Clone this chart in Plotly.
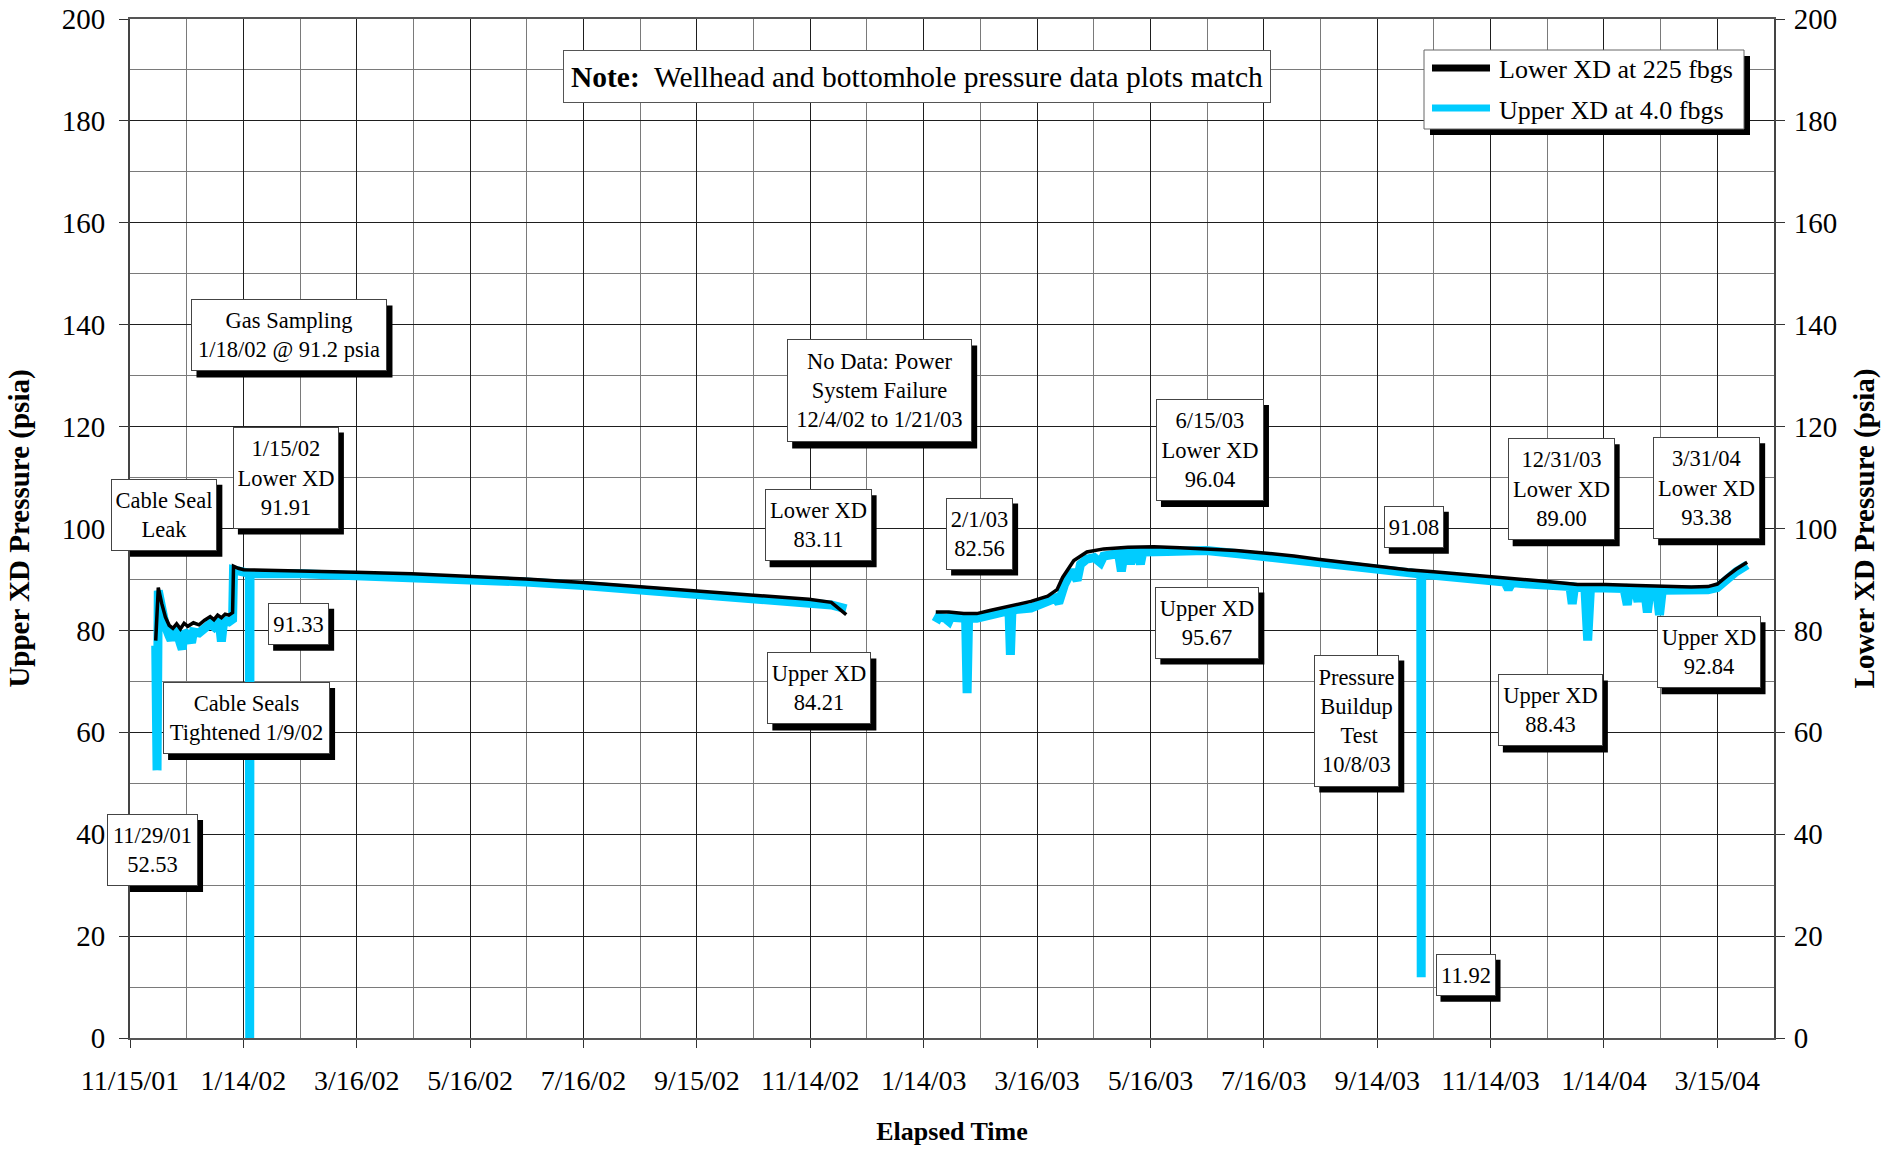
import pandas as pd
import plotly.graph_objects as go

SERIF = "Liberation Serif, Times New Roman, serif"
SKY = "#00CCFF"

# Date-axis labels (equally spaced between the first and last label)
TICK_LABELS = ["11/15/01", "1/14/02", "3/16/02", "5/16/02", "7/16/02", "9/15/02",
               "11/14/02", "1/14/03", "3/16/03", "5/16/03", "7/16/03", "9/14/03",
               "11/14/03", "1/14/04", "3/15/04"]

# Lower transducer (225 fbgs), psia; None marks the power-failure gap
LOWER_DATES = [
    "2001-11-28 19:00", "2001-11-30 04:00", "2001-12-02", "2001-12-04", "2001-12-06",
    "2001-12-08", "2001-12-10", "2001-12-12", "2001-12-14", "2001-12-16", "2001-12-19",
    "2001-12-22", "2001-12-25", "2001-12-28", "2001-12-30", "2002-01-01", "2002-01-03",
    "2002-01-05", "2002-01-07", "2002-01-09 00:00", "2002-01-09 12:00", "2002-01-12",
    "2002-01-15", "2002-02-15", "2002-03-16", "2002-04-15", "2002-05-16", "2002-06-15",
    "2002-07-16", "2002-08-15", "2002-09-15", "2002-10-15", "2002-11-14", "2002-11-26",
    "2002-12-04", "2002-12-20",
    "2003-01-21", "2003-01-28", "2003-02-05", "2003-02-12", "2003-02-19",
    "2003-02-27", "2003-03-13", "2003-03-22", "2003-03-27", "2003-03-30",
    "2003-04-05", "2003-04-12", "2003-04-21", "2003-05-04", "2003-05-18", "2003-06-01",
    "2003-06-15", "2003-07-01", "2003-07-16", "2003-08-01", "2003-08-15", "2003-09-01",
    "2003-09-15", "2003-10-01", "2003-10-15", "2003-11-01", "2003-11-15", "2003-12-01",
    "2003-12-15", "2003-12-31", "2004-01-15", "2004-02-01", "2004-02-15", "2004-03-01",
    "2004-03-10", "2004-03-15", "2004-03-20", "2004-03-25", "2004-03-31",
]
LOWER_PSIA = [
    78.0, 88.4, 85.3, 82.6, 81.0,
    80.4, 81.3, 80.3, 81.4, 80.8, 81.5,
    81.1, 82.0, 82.7, 82.1, 83.0, 82.5,
    83.2, 83.0, 83.5, 92.6, 92.2,
    91.91, 91.7, 91.4, 91.1, 90.6, 90.1,
    89.4, 88.6, 87.8, 87.0, 86.1, 85.5,
    83.11, None,
    83.6, 83.6, 83.3, 83.3, 83.9,
    84.6, 85.7, 86.7, 88.0, 90.4,
    93.7, 95.4, 96.0, 96.3, 96.4, 96.2,
    96.04, 95.7, 95.2, 94.6, 93.9, 93.2,
    92.5, 91.9, 91.5, 91.0, 90.5, 90.0,
    89.6, 89.00, 89.0, 88.8, 88.6, 88.5,
    88.6, 89.1, 90.6, 92.0, 93.38,
]

# Upper transducer (4.0 fbgs), psia
UPPER_DATES = [
    "2001-11-28 19:00", "2001-11-29 12:00", "2001-11-30 04:00", "2001-12-02", "2001-12-04",
    "2001-12-06", "2001-12-07", "2001-12-08", "2001-12-10", "2001-12-12", "2001-12-13",
    "2001-12-14", "2001-12-16", "2001-12-18", "2001-12-19", "2001-12-22", "2001-12-25",
    "2001-12-28", "2001-12-30", "2002-01-01", "2002-01-02", "2002-01-03", "2002-01-04",
    "2002-01-05", "2002-01-07", "2002-01-09 00:00", "2002-01-09 12:00", "2002-01-12",
    "2002-01-15", "2002-01-18", "2002-01-18 04:00", "2002-01-18 08:00", "2002-02-15",
    "2002-03-16", "2002-04-15", "2002-05-16", "2002-06-15", "2002-07-16", "2002-08-15",
    "2002-09-15", "2002-10-15", "2002-11-14", "2002-11-26", "2002-12-04", "2002-12-20",
    "2003-01-21", "2003-01-22 12:00", "2003-01-26", "2003-01-28", "2003-01-29",
    "2003-02-01", "2003-02-06 00:00", "2003-02-06 19:00", "2003-02-07 14:00", "2003-02-12",
    "2003-02-18", "2003-02-24", "2003-02-28", "2003-03-01 06:00", "2003-03-02 00:00",
    "2003-03-02 20:00", "2003-03-13", "2003-03-22", "2003-03-26", "2003-03-27 22:00",
    "2003-03-29", "2003-03-31", "2003-04-04", "2003-04-06 19:00", "2003-04-08 14:00",
    "2003-04-12", "2003-04-16", "2003-04-19 07:00", "2003-04-21", "2003-04-29",
    "2003-04-30 12:00", "2003-05-02", "2003-05-04 12:00", "2003-05-05 10:00", "2003-05-06 12:00",
    "2003-05-09", "2003-05-10 17:00", "2003-05-12", "2003-05-25",
    "2003-06-15", "2003-07-01", "2003-07-16", "2003-08-01", "2003-08-15", "2003-09-01",
    "2003-09-15", "2003-10-01", "2003-10-08 00:00", "2003-10-08 06:00", "2003-10-08 12:00",
    "2003-10-15", "2003-11-01", "2003-11-15", "2003-11-22", "2003-11-24", "2003-11-26",
    "2003-12-01", "2003-12-15", "2003-12-27", "2003-12-28 05:00", "2003-12-29 10:00",
    "2003-12-31", "2004-01-04", "2004-01-05 12:00", "2004-01-07", "2004-01-15",
    "2004-01-25", "2004-01-26 17:00", "2004-01-28", "2004-01-31", "2004-02-01 12:00",
    "2004-02-02", "2004-02-05", "2004-02-06 12:00", "2004-02-08", "2004-02-11 12:00",
    "2004-02-13", "2004-02-14 12:00", "2004-03-01", "2004-03-10", "2004-03-15",
    "2004-03-20", "2004-03-25", "2004-03-31",
]
UPPER_PSIA = [
    77.0, 52.53, 87.8, 84.2, 80.8,
    78.9, 78.1, 79.6, 79.9, 77.4, 76.3,
    79.8, 79.1, 77.6, 79.7, 79.5, 80.3,
    81.3, 80.7, 81.7, 81.2, 77.8, 81.1,
    81.9, 81.7, 82.2, 91.9, 91.6,
    91.33, 91.2, 0.0, 91.1, 91.1,
    90.8, 90.5, 90.0, 89.5, 88.8, 88.0,
    87.2, 86.4, 85.5, 85.0, 84.21, None,
    81.6, 82.6, 82.4, 81.8, 82.6,
    82.56, 82.4, 67.7, 82.4, 82.4,
    82.9, 83.4, 83.8, 83.9, 75.2,
    84.0, 84.4, 85.9, 86.3, 85.4,
    87.3, 89.0, 91.8, 89.8, 93.0,
    94.0, 94.3, 93.3, 94.6, 95.1,
    91.6, 95.2, 95.2, 93.0, 95.3,
    95.3, 93.0, 95.4, 95.5,
    95.67, 95.1, 94.5, 93.9, 93.1, 92.4,
    91.7, 91.2, 91.08, 11.92, 90.9,
    90.8, 90.2, 89.7, 89.5, 88.1, 89.4,
    89.2, 88.9, 88.6, 85.2, 88.5,
    88.43, 88.4, 78.0, 88.3, 88.3,
    88.2, 85.0, 88.2, 88.1, 85.6,
    88.1, 88.0, 83.5, 88.0, 88.0,
    83.0, 87.9, 87.9, 88.0, 88.4,
    90.0, 91.5, 92.84,
]


def reading(dates, values, when):
    return values[dates.index(when)]


def lower(when):
    return f"{reading(LOWER_DATES, LOWER_PSIA, when):.2f}"


def upper(when):
    return f"{reading(UPPER_DATES, UPPER_PSIA, when):.2f}"


# Callout boxes: (anchor date, anchor psia, text, box width px, box height px)
CALLOUTS = [
    ("2001-12-03 10:00", 102.7, "Cable Seal<br>Leak", 106, 72),
    ("2002-02-06 14:00", 110.0, f"1/15/02<br>Lower XD<br>{lower('2002-01-15')}", 106, 102),
    ("2002-02-08 12:00", 137.9,
     f"Gas Sampling<br>1/18/02 @ {reading(UPPER_DATES, UPPER_PSIA, '2002-01-18'):.1f} psia", 196, 72),
    ("2002-02-13 10:00", 81.3, upper("2002-01-15"), 61, 42),
    ("2002-01-16 12:00", 62.8, "Cable Seals<br>Tightened 1/9/02", 167, 72),
    ("2001-11-27 02:00", 36.9, f"11/29/01<br>{upper('2001-11-29 12:00')}", 91, 72),
    ("2002-12-21 22:00", 127.0, "No Data: Power<br>System Failure<br>12/4/02 to 1/21/03", 185, 103),
    ("2002-11-18 22:00", 100.65, f"Lower XD<br>{lower('2002-12-04')}", 107, 72),
    ("2003-02-13 12:00", 99.0, f"2/1/03<br>{upper('2003-02-01')}", 67, 72),
    ("2002-11-19 14:00", 68.6, f"Upper XD<br>{upper('2002-12-04')}", 104, 72),
    ("2003-06-17 00:00", 115.4, f"6/15/03<br>Lower XD<br>{lower('2003-06-15')}", 108, 102),
    ("2003-06-15 14:00", 81.55, f"Upper XD<br>{upper('2003-06-15')}", 104, 72),
    ("2003-10-04 07:00", 100.35, upper("2003-10-08 00:00"), 60, 42),
    ("2003-09-03 17:00", 62.3, "Pressure<br>Buildup<br> Test<br>10/8/03", 85, 132),
    ("2003-11-01 00:00", 12.4, upper("2003-10-08 06:00"), 60, 42),
    ("2003-12-22 07:00", 107.7, f"12/31/03<br>Lower XD<br>{lower('2003-12-31')}", 107, 102),
    ("2004-03-09 07:00", 107.9, f"3/31/04<br>Lower XD<br>{lower('2004-03-31')}", 107, 102),
    ("2003-12-16 12:00", 64.3, f"Upper XD<br>{upper('2003-12-31')}", 105, 72),
    ("2004-03-10 07:00", 75.7, f"Upper XD<br>{upper('2004-03-31')}", 104, 72),
]

# Axis geometry
start = pd.Timestamp("2001-11-15")
last = pd.Timestamp("2004-03-15")
step = (last - start) / (len(TICK_LABELS) - 1)
major_ticks = [(start + i * step).isoformat() for i in range(len(TICK_LABELS))]
minor_ticks = [(start + (i + 0.5) * step).isoformat() for i in range(len(TICK_LABELS))]
x_end = (start + (len(TICK_LABELS) - 0.5) * step).isoformat()

fig = go.Figure()
# upper transducer on the left axis, lower transducer on the right axis (drawn over it)
fig.add_trace(go.Scatter(
    x=UPPER_DATES, y=UPPER_PSIA, mode="lines", name="Upper XD at 4.0 fbgs",
    line=dict(color=SKY, width=9), connectgaps=False, showlegend=False, yaxis="y",
))
fig.add_trace(go.Scatter(
    x=LOWER_DATES, y=LOWER_PSIA, mode="lines", name="Lower XD at 225 fbgs",
    line=dict(color="black", width=3.5), connectgaps=False, showlegend=False, yaxis="y2",
))

PLOT_L, PLOT_R, PLOT_T, PLOT_B = 130, 1774, 19, 1038


def px_x(px):
    return (px - PLOT_L) / (PLOT_R - PLOT_L)


def px_y(py):
    return (PLOT_B - py) / (PLOT_B - PLOT_T)


shapes = [
    # legend shadow and frame
    dict(type="rect", xref="paper", yref="paper", x0=px_x(1430), x1=px_x(1750),
         y0=px_y(135), y1=px_y(56), fillcolor="black", line=dict(width=0)),
    dict(type="rect", xref="paper", yref="paper", x0=px_x(1424), x1=px_x(1744),
         y0=px_y(129), y1=px_y(50), fillcolor="white", line=dict(color="#666", width=1)),
    dict(type="line", xref="paper", yref="paper", x0=px_x(1432), x1=px_x(1490),
         y0=px_y(68), y1=px_y(68), line=dict(color="black", width=7)),
    dict(type="line", xref="paper", yref="paper", x0=px_x(1432), x1=px_x(1490),
         y0=px_y(108), y1=px_y(108), line=dict(color=SKY, width=7)),
]

annotations = [
    dict(xref="paper", yref="paper", x=px_x(1497), y=px_y(70), xanchor="left", yanchor="middle",
         text="Lower XD at 225 fbgs", showarrow=False, font=dict(family=SERIF, size=26, color="black")),
    dict(xref="paper", yref="paper", x=px_x(1497), y=px_y(110), xanchor="left", yanchor="middle",
         text="Upper XD at 4.0 fbgs", showarrow=False, font=dict(family=SERIF, size=26, color="black")),
    dict(xref="paper", yref="paper", x=px_x(917), y=px_y(76.5), xanchor="center", yanchor="middle",
         text="<b>Note:</b>\u00a0 Wellhead and bottomhole pressure data plots match",
         showarrow=False, bgcolor="white", bordercolor="#555", borderwidth=1, borderpad=6,
         width=694, height=39, font=dict(family=SERIF, size=29.5, color="black")),
]

PAD, BORDER = 4, 1
for when, psia, text, w, h in CALLOUTS:
    # drop shadow, offset right and down
    shapes.append(dict(type="rect", xref="x", yref="y", xsizemode="pixel", ysizemode="pixel",
                       xanchor=when, yanchor=psia, x0=-w / 2 + 5, x1=w / 2 + 5,
                       y0=-h / 2 - 6, y1=h / 2 - 6, fillcolor="black", line=dict(width=0)))
    annotations.append(dict(x=when, y=psia, xref="x", yref="y", text=text, showarrow=False,
                            align="center", valign="middle", borderpad=PAD, borderwidth=BORDER,
                            width=w - 2 * (PAD + BORDER), height=h - 2 * (PAD + BORDER),
                            bgcolor="white", bordercolor="#444",
                            font=dict(family=SERIF, size=22.5, color="black")))

x_tick_font = dict(family=SERIF, size=28, color="black")
y_tick_font = dict(family=SERIF, size=29, color="black")
title_font = dict(family=SERIF, size=29, color="black", weight="bold")

fig.update_layout(
    width=1900, height=1149,
    margin=dict(l=PLOT_L, r=1900 - PLOT_R, t=PLOT_T, b=1149 - PLOT_B, autoexpand=False),
    paper_bgcolor="white", plot_bgcolor="white",
    showlegend=False,
    shapes=shapes, annotations=annotations,
    xaxis=dict(
        type="date", range=[start.isoformat(), x_end], tickmode="array", tickvals=major_ticks,
        ticktext=TICK_LABELS, ticks="outside", ticklen=8, tickcolor="#333", tickwidth=1,
        tickfont=x_tick_font, ticklabelstandoff=8,
        showgrid=True, gridcolor="#1e1e1e", gridwidth=1,
        minor=dict(tickmode="array", tickvals=minor_ticks, showgrid=True,
                   gridcolor="#7a7a7a", gridwidth=1, ticks=""),
        showline=True, linecolor="#555", linewidth=2, mirror=True, zeroline=False,
        title=dict(text="Elapsed Time", font=dict(family=SERIF, size=26, color="black", weight="bold"),
                   standoff=27),
        automargin=False,
    ),
    yaxis=dict(
        range=[0, 200], tickmode="linear", tick0=0, dtick=20, ticks="outside", ticklen=9,
        tickcolor="#333", tickwidth=1, tickfont=y_tick_font, ticklabelstandoff=8,
        showgrid=True, gridcolor="#1e1e1e", gridwidth=1,
        minor=dict(dtick=10, showgrid=True, gridcolor="#7a7a7a", gridwidth=1, ticks=""),
        showline=True, linecolor="#444", linewidth=2, zeroline=False,
        title=dict(text="Upper XD Pressure (psia)", font=title_font, standoff=24),
        automargin=False,
    ),
    yaxis2=dict(
        overlaying="y", side="right", anchor="x",
        range=[0, 200], tickmode="linear", tick0=0, dtick=20, ticks="outside", ticklen=9,
        tickcolor="#333", tickwidth=1, tickfont=y_tick_font, ticklabelstandoff=3,
        showgrid=False, showline=True, linecolor="#444", linewidth=2, zeroline=False,
        title=dict(text="Lower XD Pressure (psia)", font=title_font, standoff=17),
        automargin=False,
    ),
)

fig.write_html("out.html")
